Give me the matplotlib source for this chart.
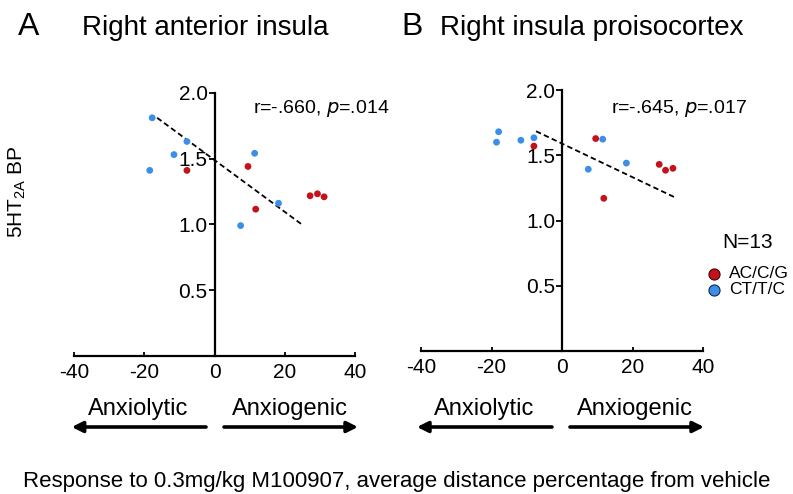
import matplotlib
matplotlib.use('Agg')
import matplotlib.pyplot as plt
from matplotlib.patches import FancyArrowPatch

plt.rcParams['font.family'] = ['Liberation Sans', 'DejaVu Sans']
plt.rcParams['axes.unicode_minus'] = False

# Panel A: right anterior insula
a_x = [-17.8, -18.5, -11.6, -7.9, 7.4, 11.4, 18.2, -7.9, 9.5, 11.7, 27.2, 29.3, 31.2]
a_y = [1.81, 1.41, 1.53, 1.63, 0.99, 1.54, 1.16, 1.41, 1.44, 1.115, 1.217, 1.232, 1.209]
# Panel B: right insula proisocortex
b_x = [-18.0, -18.6, -11.7, -8.0, 7.4, 11.5, 18.2, -8.0, 9.5, 11.8, 27.5, 29.3, 31.4]
b_y = [1.68, 1.60, 1.615, 1.634, 1.393, 1.623, 1.44, 1.57, 1.628, 1.17, 1.43, 1.385, 1.40]
# genotype: 1 = AC/C/G (red), 0 = CT/T/C (blue)
group = [0, 0, 0, 0, 0, 0, 0, 1, 1, 1, 1, 1, 1]

# regression line end points
a_fit_x = [-16.4, 25.1]
a_fit_y = [1.81, 0.994]
b_fit_x = [-7.4, 32.2]
b_fit_y = [1.684, 1.174]

stats = ['r=-.660, $\\it{p}$=.014', 'r=-.645, $\\it{p}$=.017']
titles = [('A', 'Right anterior insula'), ('B', 'Right insula proisocortex')]
x_ticks = [-40, -20, 0, 20, 40]
y_ticks = [0.5, 1.0, 1.5, 2.0]

RED = '#c4121c'
BLUE = '#3c8ee6'

W, H = 793, 494
fig = plt.figure(figsize=(W / 100, H / 100), dpi=100)


def fx(px):
    return px / W


def fy(py):
    return 1 - py / H


ax_a = fig.add_axes([fx(74.3), fy(355.8), 280.7 / W, 263 / H])
ax_b = fig.add_axes([fx(421), fy(351), 282.3 / W, 261 / H])

panels = [(ax_a, a_x, a_y, a_fit_x, a_fit_y, fx(253), fy(112.7)),
          (ax_b, b_x, b_y, b_fit_x, b_fit_y, fx(611), fy(113))]

for i, (ax, xs, ys, fxs, fys, sx, sy) in enumerate(panels):
    cols = [RED if g else BLUE for g in group]
    ax.scatter(xs, ys, c=cols, s=24, linewidths=0, zorder=3, clip_on=False)
    ax.plot(fxs, fys, color='black', ls=(0, (3, 1.8)), lw=1.3, zorder=2)
    ax.set_xlim(-40, 40)
    ax.set_ylim(0, 2.0)
    ax.spines['top'].set_visible(False)
    ax.spines['right'].set_visible(False)
    ax.spines['left'].set_position(('data', 0))
    ax.spines['left'].set_linewidth(1.6)
    ax.spines['bottom'].set_linewidth(1.6)
    ax.set_xticks(x_ticks)
    ax.set_yticks(y_ticks)
    ax.set_yticklabels(['%.1f' % v for v in y_ticks])
    ax.tick_params(axis='x', direction='in', length=3, width=1.3, pad=5, labelsize=15)
    ax.tick_params(axis='y', direction='out', length=4, width=1.3, pad=1, labelsize=15)
    ax.patch.set_visible(False)
    fig.text(sx, sy, stats[i], fontsize=14, va='baseline', ha='left')

fig.text(fx(18), fy(35), titles[0][0], fontsize=23, va='baseline')
fig.text(fx(82), fy(35), titles[0][1], fontsize=20, va='baseline')
fig.text(fx(401), fy(35), titles[1][0], fontsize=23, va='baseline')
fig.text(fx(440), fy(35), titles[1][1], fontsize=20, va='baseline')

fig.text(fx(17), fy(192), '5HT$_\\mathregular{2A}$ BP', fontsize=15,
         rotation=90, ha='center', va='center')

# legend
fig.text(fx(748), fy(242), 'N=13', fontsize=15, ha='center', va='center')
fig.lines.append(plt.Line2D([fx(714)], [fy(274)], marker='o', ms=8, mfc=RED,
                            mec='#3a0505', mew=0.8, transform=fig.transFigure))
fig.lines.append(plt.Line2D([fx(714)], [fy(290)], marker='o', ms=8, mfc=BLUE,
                            mec='#0d2a52', mew=0.8, transform=fig.transFigure))
fig.text(fx(729), fy(274), 'AC/C/G', fontsize=12.5, va='center')
fig.text(fx(729), fy(290), 'CT/T/C', fontsize=12.5, va='center')

# direction arrows under the x axes
labels_pos = [(138.5, 'Anxiolytic'), (290, 'Anxiogenic'),
              (484, 'Anxiolytic'), (635, 'Anxiogenic')]
for cx, txt in labels_pos:
    fig.text(fx(cx), fy(415), txt, fontsize=17, ha='center', va='baseline')

arrows = [(206, 71.7), (224, 358), (552, 417), (570, 704)]
for tail, tip in arrows:
    arr = FancyArrowPatch((fx(tail), fy(427)), (fx(tip), fy(427)),
                          transform=fig.transFigure, arrowstyle='-|>',
                          mutation_scale=16, lw=2.6, color='black',
                          shrinkA=0, shrinkB=0)
    fig.patches.append(arr)

fig.text(fx(396.5), fy(487),
         'Response to 0.3mg/kg M100907, average distance percentage from vehicle',
         fontsize=16, ha='center', va='baseline')

plt.savefig('out.png', dpi=100)
